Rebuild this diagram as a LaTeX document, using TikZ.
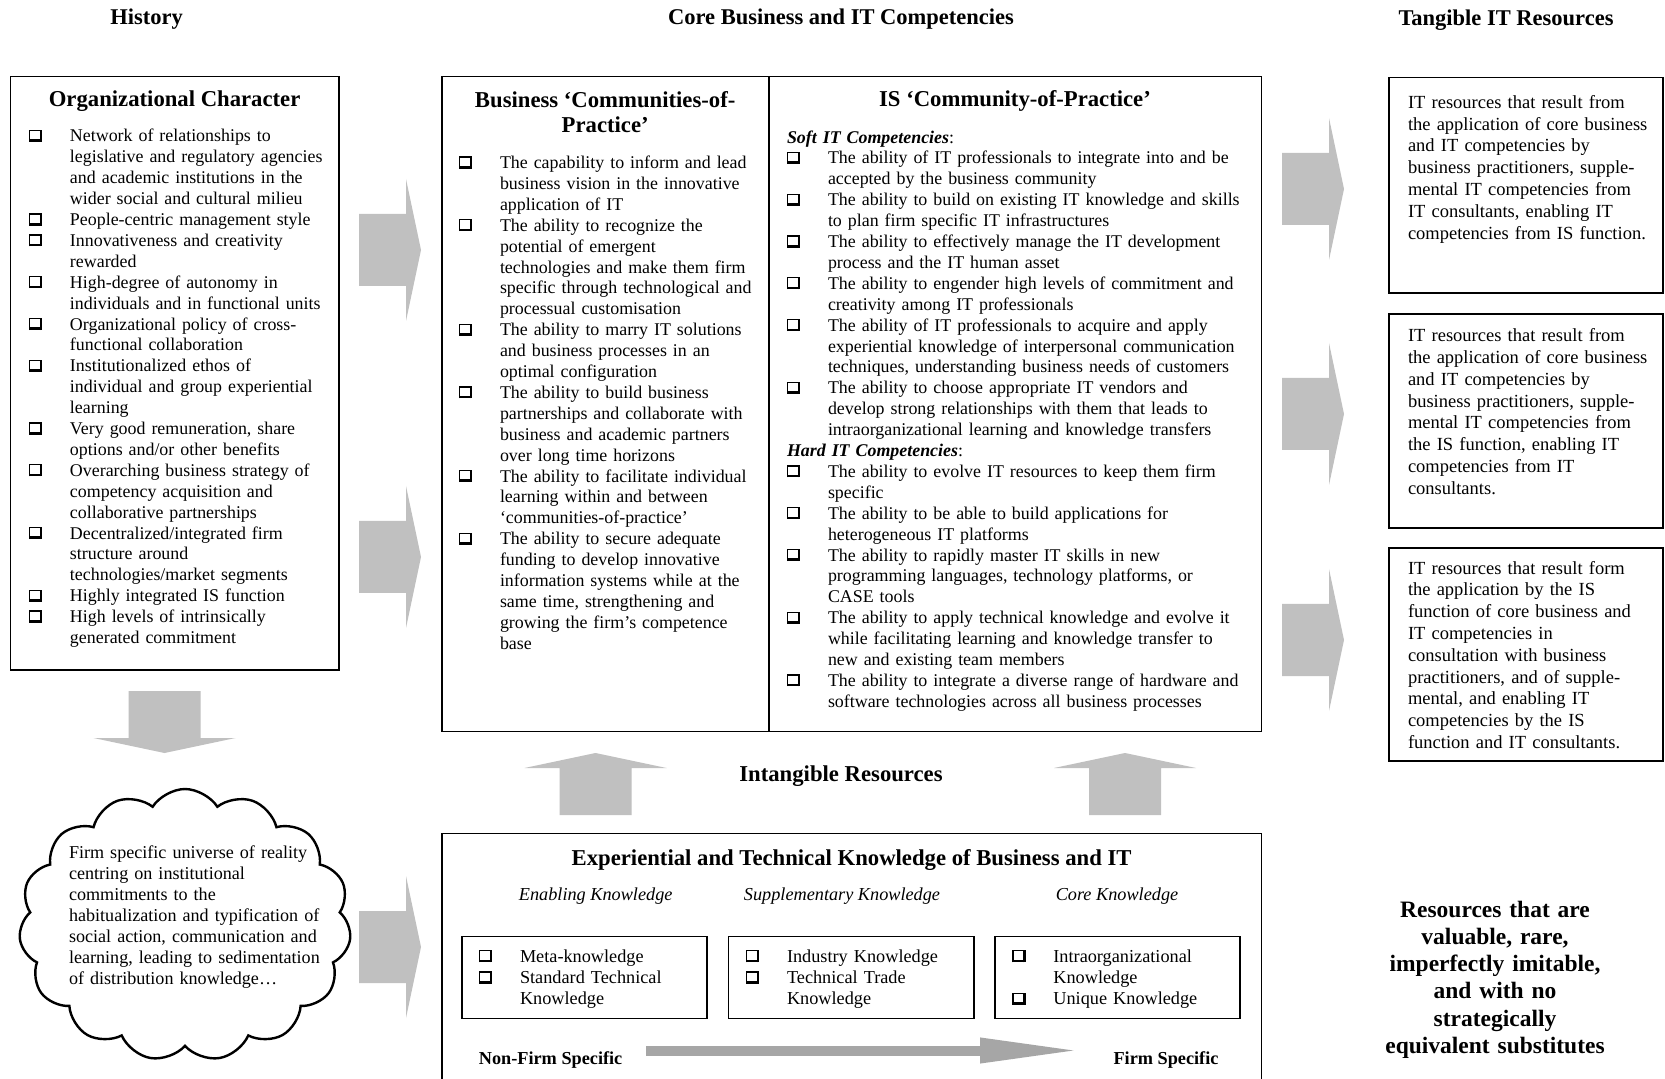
\documentclass[tikz,border=0pt]{standalone}
\usepackage{fontspec}
\setmainfont{Liberation Serif}
\usetikzlibrary{shapes.symbols,arrows.meta}
\definecolor{agray}{RGB}{192,192,192}
\definecolor{bgray}{RGB}{166,166,166}
\newcommand\qglyph{{\setlength{\unitlength}{1pt}\begin{picture}(6.6,6.1)
\put(0,0){\rule{6.6pt}{1.3pt}}
\put(5.3,0){\rule{1.3pt}{6.1pt}}
\put(0,5.45){\rule{6.6pt}{0.65pt}}
\put(0,0){\rule{0.65pt}{6.1pt}}
\end{picture}}}
\newcommand\bx{\makebox[20.5pt][l]{\qglyph}}
\newcommand\nb{\hspace*{20.5pt}}
\tikzset{
  boxline/.style={draw=black, line width=0.8pt},
  frame/.style={boxline, rectangle, inner sep=0pt, outer sep=0pt, anchor=north west},
  ghost/.style={rectangle, inner sep=0pt, outer sep=0pt, anchor=north west},
  txt/.style={inner sep=0pt, outer sep=0pt, anchor=north west, align=left, font=\fontsize{8.95}{10.45}\selectfont},
  rtxt/.style={inner sep=0pt, outer sep=0pt, anchor=north west, align=left, text width=134pt, font=\fontsize{9.25}{10.9}\selectfont},
  hdr/.style={inner sep=0pt, outer sep=0pt, anchor=base, font=\bfseries\fontsize{11.25}{13}\selectfont},
  ttl/.style={inner sep=0pt, outer sep=0pt, anchor=base, font=\bfseries\fontsize{11.35}{12.75}\selectfont},
  lbl/.style={inner sep=0pt, outer sep=0pt, anchor=base, font=\itshape\fontsize{9.125}{10.45}\selectfont},
  blbl/.style={inner sep=0pt, outer sep=0pt, anchor=base, font=\bfseries\fontsize{9.125}{10.45}\selectfont},
  ktxt/.style={txt, font=\fontsize{9.125}{10.6}\selectfont, text width=120pt},
  blk/.pic={\fill[agray] (0,-36) -- (47,-36) -- (47,-71) -- (62,0) -- (47,71) -- (47,36) -- (0,36) -- cycle;}
}
\begin{document}
\begin{tikzpicture}[x=0.5pt,y=-0.5pt]
\fill[white] (0,0) rectangle (1665,1079);
\useasboundingbox (0,0) rectangle (1665,1079);

% headers
\node[hdr] (hHist) at (146.5,25) {History};
\node[hdr] (hCore) at (841,25) {Core Business and IT Competencies};
\node[hdr] (hTang) at (1506,26) {Tangible IT Resources};

% organizational character
\node[frame, minimum width=164.05pt, minimum height=296.75pt] (org) at (10.6,76.5) {};
\node[ttl] (orgT) at (174.6,107) {Organizational Character};
\node[txt, text width=170pt] (orgL) at (29,127.3) {\strut\bx Network of relationships to\\
\nb legislative and regulatory agencies\\
\nb and academic institutions in the\\
\nb wider social and cultural milieu\\
\bx People-centric management style\\
\bx Innovativeness and creativity\\
\nb rewarded\\
\bx High-degree of autonomy in\\
\nb individuals and in functional units\\
\bx Organizational policy of cross-\\
\nb functional collaboration\\
\bx Institutionalized ethos of\\
\nb individual and group experiential\\
\nb learning\\
\bx Very good remuneration, share\\
\nb options and/or other benefits\\
\bx Overarching business strategy of\\
\nb competency acquisition and\\
\nb collaborative partnerships\\
\bx Decentralized/integrated firm\\
\nb structure around\\
\nb technologies/market segments\\
\bx Highly integrated IS function\\
\bx High levels of intrinsically\\
\nb generated commitment};

% business communities
\node[frame, minimum width=163.55pt, minimum height=327.55pt] (bcop) at (441.7,76.5) {};
\node[inner sep=0pt, outer sep=0pt, anchor=north, align=center, font=\bfseries\fontsize{11.35}{12.75}\selectfont] (bcopT) at (605.2,89.2) {\strut Business ‘Communities-of-\\Practice’};
\node[txt, text width=175pt] (bcopL) at (459,153.9) {\strut\bx The capability to inform and lead\\
\nb business vision in the innovative\\
\nb application of IT\\
\bx The ability to recognize the\\
\nb potential of emergent\\
\nb technologies and make them firm\\
\nb specific through technological and\\
\nb processual customisation\\
\bx The ability to marry IT solutions\\
\nb and business processes in an\\
\nb optimal configuration\\
\bx The ability to build business\\
\nb partnerships and collaborate with\\
\nb business and academic partners\\
\nb over long time horizons\\
\bx The ability to facilitate individual\\
\nb learning within and between\\
\nb ‘communities-of-practice’\\
\bx The ability to secure adequate\\
\nb funding to develop innovative\\
\nb information systems while at the\\
\nb same time, strengthening and\\
\nb growing the firm’s competence\\
\nb base};

% IS community
\node[frame, minimum width=246.35pt, minimum height=327.55pt] (iscop) at (768.8,76.5) {};
\node[ttl] (iscopT) at (1015,107) {IS ‘Community-of-Practice’};
\node[txt, text width=250pt] (iscopL) at (787,128.4) {\strut\textbf{\textit{Soft IT Competencies}}:\\
\bx The ability of IT professionals to integrate into and be\\
\nb accepted by the business community\\
\bx The ability to build on existing IT knowledge and skills\\
\nb to plan firm specific IT infrastructures\\
\bx The ability to effectively manage the IT development\\
\nb process and the IT human asset\\
\bx The ability to engender high levels of commitment and\\
\nb creativity among IT professionals\\
\bx The ability of IT professionals to acquire and apply\\
\nb experiential knowledge of interpersonal communication\\
\nb techniques, understanding business needs of customers\\
\bx The ability to choose appropriate IT vendors and\\
\nb develop strong relationships with them that leads to\\
\nb intraorganizational learning and knowledge transfers\\
\textbf{\textit{Hard IT Competencies}}:\\
\bx The ability to evolve IT resources to keep them firm\\
\nb specific\\
\bx The ability to be able to build applications for\\
\nb heterogeneous IT platforms\\
\bx The ability to rapidly master IT skills in new\\
\nb programming languages, technology platforms, or\\
\nb CASE tools\\
\bx The ability to apply technical knowledge and evolve it\\
\nb while facilitating learning and knowledge transfer to\\
\nb new and existing team members\\
\bx The ability to integrate a diverse range of hardware and\\
\nb software technologies across all business processes};

% tangible IT resources boxes
\node[frame, minimum width=137pt, minimum height=107.75pt] (rb1) at (1389,77.5) {};
\node[rtxt] (rb1L) at (1408,93) {\strut IT resources that result from\\
the application of core business\\
and IT competencies by\\
business practitioners, supple-\\
mental IT competencies from\\
IT consultants, enabling IT\\
competencies from IS function.};
\node[frame, minimum width=137pt, minimum height=107pt] (rb2) at (1389,314) {};
\node[rtxt] (rb2L) at (1408,326.4) {\strut IT resources that result from\\
the application of core business\\
and IT competencies by\\
business practitioners, supple-\\
mental IT competencies from\\
the IS function, enabling IT\\
competencies from IT\\
consultants.};
\node[frame, minimum width=137pt, minimum height=106.5pt] (rb3) at (1389,548) {};
\node[rtxt] (rb3L) at (1408,558.9) {\strut IT resources that result form\\
the application by the IS\\
function of core business and\\
IT competencies in\\
consultation with business\\
practitioners, and of supple-\\
mental, and enabling IT\\
competencies by the IS\\
function and IT consultants.};

% block arrows
\pic at (359,250) {blk};
\pic at (359,557) {blk};
\pic at (359,947) {blk};
\pic at (1282,189) {blk};
\pic at (1282,414) {blk};
\pic at (1282,640) {blk};
\pic[rotate=-90] at (164.5,691) {blk};
\pic[rotate=90] at (595.5,815) {blk};
\pic[rotate=90] at (1125,815) {blk};

% cloud
\node[cloud, draw=black, line width=1.2pt, cloud puffs=15, cloud puff arc=115, aspect=1.25, minimum width=166pt, minimum height=136pt, inner sep=0pt] (cloud) at (185,925) {};
\node[txt, font=\fontsize{9.05}{10.5}\selectfont, text width=170pt] (cloudT) at (69,843.8) {\strut Firm specific universe of reality\\
centring on institutional\\
commitments to the\\
habitualization and typification of\\
social action, communication and\\
learning, leading to sedimentation\\
of distribution knowledge…};

% intangible resources
\node[ttl] (intang) at (841,781) {Intangible Resources};

% knowledge box (open at bottom)
\node[ghost, minimum width=409.9pt, minimum height=122.7pt] (ekb) at (441.7,833.6) {};
\draw[boxline] (ekb.south west) -- (ekb.north west) -- (ekb.north east) -- (ekb.south east);
\node[ttl] (ekbT) at (851.6,865.5) {Experiential and Technical Knowledge of Business and IT};
\node[lbl] (enabL) at (595.7,900.5) {Enabling Knowledge};
\node[lbl] (suppL) at (842,900.5) {Supplementary Knowledge};
\node[lbl] (coreL) at (1117,900.5) {Core Knowledge};
\node[frame, minimum width=122.5pt, minimum height=40.9pt] (kA) at (462,936.6) {};
\node[frame, minimum width=122.65pt, minimum height=40.9pt] (kB) at (728.5,936.6) {};
\node[frame, minimum width=122.5pt, minimum height=40.9pt] (kC) at (995,936.6) {};
\node[ktxt] (kAL) at (479,947.5) {\strut\bx Meta-knowledge\\
\bx Standard Technical\\
\nb Knowledge};
\node[ktxt] (kBL) at (746,947.5) {\strut\bx Industry Knowledge\\
\bx Technical Trade\\
\nb Knowledge};
\node[ktxt] (kCL) at (1012.4,947.5) {\strut\bx Intraorganizational\\
\nb Knowledge\\
\bx Unique Knowledge};
\coordinate (nfsArr) at (646,1050.5);
\coordinate (fsArr) at (1082,1050.5);
\draw[bgray, line width=5pt, -{Triangle[length=51pt,width=11.5pt]}] (nfsArr) -- (fsArr);
\node[blbl] (nfs) at (550.6,1064.5) {Non-Firm Specific};
\node[blbl] (fs) at (1166,1064.5) {Firm Specific};

% VRIN resources
\node[inner sep=0pt, outer sep=0pt, anchor=north, align=center, text width=150pt, font=\bfseries\fontsize{11.75}{13.65}\selectfont] (vrin) at (1495,897.9) {\strut Resources that are\\
valuable, rare,\\
imperfectly imitable,\\
and with no\\
strategically\\
equivalent substitutes};
\end{tikzpicture}
\end{document}
